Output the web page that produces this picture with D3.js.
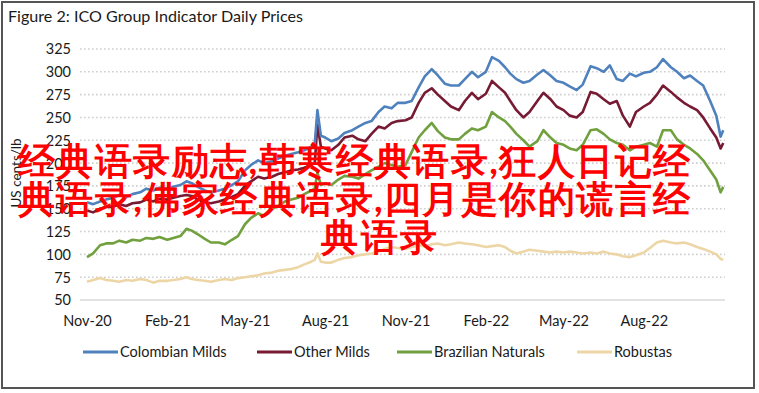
<!DOCTYPE html>
<html>
<head>
<meta charset="utf-8">
<script src="https://cdn.jsdelivr.net/npm/d3@7"></script>
<style>
  html, body { margin: 0; padding: 0; background: #fff; }
  svg { display: block; }
  text { font-family: Lato, "Noto Sans", sans-serif; fill: #1a1a1a; }
</style>
</head>
<body>
<svg id="chart" width="759" height="393"></svg>
<script>
// ---------- DATA ----------
const titleText = "Figure 2: ICO Group Indicator Daily Prices";
const yAxisLabel = "US cents/lb";
const yTicks = [50, 75, 100, 125, 150, 175, 200, 225, 250, 275, 300, 325];
const xTickDates = ["2020-11-01","2021-02-01","2021-05-01","2021-08-01","2021-11-01","2022-02-01","2022-05-01","2022-08-01"];
const seriesNames = ["Colombian Milds", "Other Milds", "Brazilian Naturals", "Robustas"];
const overlayLines = ["经典语录励志,韩寒经典语录,狂人日记经", "典语录,佛家经典语录,四月是你的谎言经", "典语录"];

const dates = [
 "2020-11-01","2020-11-08","2020-11-16","2020-11-23",
 "2020-12-01","2020-12-08","2020-12-16","2020-12-23",
 "2021-01-01","2021-01-08","2021-01-16","2021-01-23",
 "2021-02-01","2021-02-08","2021-02-16","2021-02-23",
 "2021-03-01","2021-03-08","2021-03-16","2021-03-23",
 "2021-04-01","2021-04-08","2021-04-16","2021-04-23",
 "2021-05-01","2021-05-08","2021-05-16","2021-05-23",
 "2021-06-01","2021-06-08","2021-06-16","2021-06-23",
 "2021-07-01","2021-07-08","2021-07-16","2021-07-20","2021-07-23","2021-07-27",
 "2021-08-01","2021-08-08","2021-08-16","2021-08-23",
 "2021-09-01","2021-09-08","2021-09-16","2021-09-23",
 "2021-10-01","2021-10-08","2021-10-16","2021-10-23",
 "2021-11-01","2021-11-08","2021-11-16","2021-11-23",
 "2021-12-01","2021-12-08","2021-12-16","2021-12-23",
 "2022-01-01","2022-01-08","2022-01-16","2022-01-23",
 "2022-02-01","2022-02-08","2022-02-16","2022-02-23",
 "2022-03-01","2022-03-08","2022-03-16","2022-03-23",
 "2022-04-01","2022-04-08","2022-04-16","2022-04-23",
 "2022-05-01","2022-05-08","2022-05-16","2022-05-23",
 "2022-06-01","2022-06-08","2022-06-16","2022-06-23",
 "2022-07-01","2022-07-08","2022-07-16","2022-07-23",
 "2022-08-01","2022-08-08","2022-08-16","2022-08-23",
 "2022-09-01","2022-09-08","2022-09-16","2022-09-23",
 "2022-10-01","2022-10-08","2022-10-16","2022-10-23","2022-10-28","2022-10-31"
];

const colombianMilds = [
 157,155,158,160, 162,165,163,166, 168,172,170,173, 172,174,176,180,
 178,174,170,168, 170,172,176,180, 192,198,203,200, 202,205,208,210,
 212,214,218,222,258,230,
 228,224,227,233, 236,240,244,246, 256,262,260,266, 266,268,283,295,
 303,296,287,285, 285,292,300,294, 300,316,312,305, 298,292,288,290,
 297,302,296,290, 288,284,280,286, 306,304,300,307, 292,290,298,295,
 299,300,305,314, 305,300,293,296,
 290,285,268,252,229,236
];
const otherMilds = [
 148,146,150,152, 152,155,153,156, 157,160,158,161, 160,162,164,165,
 164,160,157,156, 158,160,163,166, 175,180,185,183, 185,188,190,192,
 193,195,198,200,242,218,
 216,214,220,228, 230,226,224,232, 240,238,244,246, 247,250,266,277,
 282,275,268,262, 258,268,277,270, 276,290,283,277, 268,258,250,256,
 268,277,270,262, 258,252,250,256, 278,276,270,265, 268,252,240,256,
 262,266,275,285, 278,272,266,262,
 258,250,238,228,216,222
];
const brazilianNaturals = [
 97,101,110,112, 112,115,113,116, 115,118,117,119, 116,118,120,128,
 126,122,117,113, 113,111,116,120, 133,140,145,142, 150,153,158,160,
 162,166,170,172,190,176,
 178,176,182,186, 185,183,188,192, 196,200,198,196, 198,212,228,236,
 244,235,228,226, 226,232,238,236, 240,256,250,246, 240,232,225,218,
 224,236,228,222, 220,216,214,220, 236,237,232,226, 222,220,214,218,
 220,222,218,236, 236,226,220,216,
 210,203,192,182,168,174
];
const robustas = [
 70,72,74,72, 71,70,72,71, 73,72,69,71, 71,72,73,75,
 73,72,71,70, 72,73,72,74, 75,76,77,79, 80,82,83,84,
 86,89,92,94,101,92,
 91,91,94,96, 97,99,100,101, 103,106,108,107, 106,108,110,109,
 111,112,110,111, 113,112,111,110, 108,109,110,108, 104,101,103,105,
 104,103,102,103, 102,103,102,101, 102,101,103,101, 100,98,97,99,
 102,107,113,115, 113,112,113,111,
 108,106,103,100,95,94
];

// ---------- CHART ----------
const colors = ["#4F81BD", "#771A33", "#71A03E", "#EDD6A6"];
const allSeries = [colombianMilds, otherMilds, brazilianNaturals, robustas];
const parse = d3.timeParse("%Y-%m-%d");
const dateObjs = dates.map(parse);

const svg = d3.select("#chart");

// outer border
svg.append("rect").attr("x", 2).attr("y", 2).attr("width", 752).attr("height", 386)
  .attr("fill", "#fff").attr("stroke", "#555").attr("stroke-width", 2);

// title
svg.append("text").attr("x", 8).attr("y", 22)
  .attr("font-size", 16).attr("textLength", 295).attr("lengthAdjust", "spacingAndGlyphs")
  .text(titleText);

const x = d3.scaleTime()
  .domain([parse("2020-10-24"), parse("2022-11-02")])
  .range([80, 725]);
const y = d3.scaleLinear().domain([50, 325]).range([300, 49]);

// gridlines
const grid = svg.append("g");
grid.selectAll("line").data(yTicks).join("line")
  .attr("x1", 80).attr("x2", 725)
  .attr("y1", d => y(d)).attr("y2", d => y(d))
  .attr("stroke", d => d === 50 ? "#d9d9d9" : "#cfcfcf")
  .attr("stroke-width", d => d === 50 ? 1.5 : 1.6)
  .attr("stroke-dasharray", d => d === 50 ? null : "1.6,2.4");

// y axis
const yAxis = d3.axisLeft(y).tickValues(yTicks).tickSize(0).tickPadding(0);
const yg = svg.append("g").attr("transform", "translate(71,0)").call(yAxis);
yg.select(".domain").remove();
yg.selectAll("text").attr("font-size", 14.5).attr("font-family", "Lato, sans-serif").attr("fill", "#1a1a1a").attr("dy", "0.34em");

// x axis
const xAxis = d3.axisBottom(x).tickValues(xTickDates.map(parse))
  .tickFormat(d3.timeFormat("%b-%y")).tickSize(0).tickPadding(0);
const xg = svg.append("g").attr("transform", "translate(0,316)").call(xAxis);
xg.select(".domain").remove();
xg.selectAll("text").attr("font-size", 14.5).attr("font-family", "Lato, sans-serif").attr("fill", "#1a1a1a").attr("dy", "0.71em");

// y axis label
svg.append("text").attr("transform", "translate(21,173) rotate(-90)")
  .attr("text-anchor", "middle").attr("font-size", 13.5).text(yAxisLabel);

// lines
const line = d3.line().x((d, i) => x(dateObjs[i])).y(d => y(d));
const order = [3, 2, 1, 0];
order.forEach(k => {
  svg.append("path").datum(allSeries[k])
    .attr("d", line)
    .attr("fill", "none")
    .attr("stroke", colors[k])
    .attr("stroke-width", 2.6)
    .attr("stroke-linejoin", "round");
});

// legend
const legendX = [83, 257, 397, 577];
const lg = svg.append("g");
seriesNames.forEach((name, i) => {
  lg.append("line").attr("x1", legendX[i]).attr("x2", legendX[i] + 35)
    .attr("y1", 352).attr("y2", 352)
    .attr("stroke", colors[i]).attr("stroke-width", 3);
  lg.append("text").attr("x", legendX[i] + 37).attr("y", 357)
    .attr("font-size", 14.5).text(name);
});

// overlay red text
const ov = svg.append("g");
const ovX = [18, 18, 321];
const ovY = [174, 212, 250];
const ovLen = [672, 672, 116];
overlayLines.forEach((t, i) => {
  ov.append("text").attr("x", ovX[i]).attr("y", ovY[i])
    .attr("font-family", "'Noto Sans CJK SC', sans-serif")
    .attr("font-weight", 700).attr("font-size", 37)
    .attr("textLength", ovLen[i]).attr("lengthAdjust", "spacing")
    .style("fill", "#ff0000")
    .text(t);
});
</script>
</body>
</html>
